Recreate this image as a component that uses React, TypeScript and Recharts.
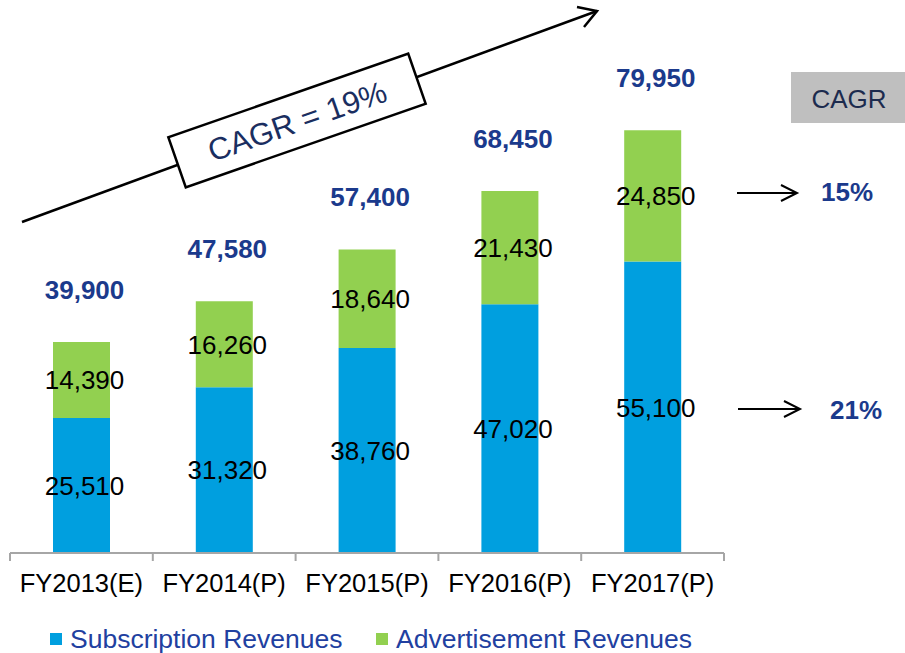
import { BarChart, Bar, XAxis, YAxis, LabelList, Legend } from "recharts";

const categories = ["FY2013(E)", "FY2014(P)", "FY2015(P)", "FY2016(P)", "FY2017(P)"];
const subscription = [25510, 31320, 38760, 47020, 55100];
const advertisement = [14390, 16260, 18640, 21430, 24850];
const overallCagr = "CAGR = 19%";
const segmentCagr = { advertisement: "15%", subscription: "21%" };

const BLUE = "#009FDF";
const GREEN = "#92D050";
const NAVY = "#1B3A8C";
const FONT = "'Liberation Sans', Arial, sans-serif";

const W = 905;
const H = 653;
const LEFT = 10;
const RIGHT = 181;
const PLOT_BOTTOM = 553;
const BAND = (W - LEFT - RIGHT) / categories.length;

const data = categories.map((name, i) => ({
    name,
    subscription: subscription[i],
    advertisement: advertisement[i],
    total: subscription[i] + advertisement[i],
}));

const fmt = (v: number) => v.toLocaleString("en-US");

function AxisTick(props: any) {
    const { x, index, payload } = props;
    const left = x - BAND / 2;
    return (
        <g>
            <line x1={left} y1={PLOT_BOTTOM} x2={left} y2={PLOT_BOTTOM + 8} stroke="#A6A6A6" strokeWidth={2} />
            {index === categories.length - 1 && (
                <line x1={x + BAND / 2} y1={PLOT_BOTTOM} x2={x + BAND / 2} y2={PLOT_BOTTOM + 8} stroke="#A6A6A6" strokeWidth={2} />
            )}
            <text x={x} y={592} textAnchor="middle" fontSize={25.5} fontFamily={FONT} fill="#000">
                {payload.value}
            </text>
        </g>
    );
}

function TotalLabel(props: any) {
    const { x, y, width, index } = props;
    return (
        <text
            x={x + width / 2 + 3}
            y={y - 52}
            textAnchor="middle"
            dominantBaseline="central"
            fontSize={26}
            fontWeight="bold"
            fontFamily={FONT}
            fill={NAVY}
        >
            {fmt(data[index].total)}
        </text>
    );
}

function LegendContent() {
    const item = (color: string, label: string, left: number) => (
        <div style={{ position: "absolute", left, top: 0, display: "flex", alignItems: "center" }}>
            <span style={{ width: 12, height: 12, background: color, marginRight: 8 }} />
            <span style={{ fontSize: 26.5, fontFamily: FONT, color: "#2140A0", lineHeight: "30px" }}>{label}</span>
        </div>
    );
    return (
        <div style={{ position: "relative", height: 30 }}>
            {item(BLUE, "Subscription Revenues", 50)}
            {item(GREEN, "Advertisement Revenues", 376)}
        </div>
    );
}

export default function App() {
    return (
        <div style={{ position: "absolute", left: 0, top: 0, width: W, height: H, background: "#fff" }}>
            <BarChart
                width={W}
                height={H}
                data={data}
                margin={{ top: 77, right: RIGHT, left: LEFT, bottom: 70 }}
            >
                <XAxis
                    dataKey="name"
                    height={30}
                    axisLine={{ stroke: "#A6A6A6", strokeWidth: 2 }}
                    tickLine={false}
                    tick={<AxisTick />}
                    interval={0}
                />
                <YAxis hide domain={[0, 90000]} />
                <Legend
                    layout="horizontal"
                    verticalAlign="middle"
                    align="center"
                    wrapperStyle={{ top: 624, left: 0, width: W }}
                    content={<LegendContent />}
                />
                <Bar dataKey="subscription" stackId="a" fill={BLUE} barSize={57} isAnimationActive={false}>
                    <LabelList
                        dataKey="subscription"
                        position="center"
                        formatter={(v: any) => fmt(Number(v))}
                        fill="#000"
                        fontSize={26}
                        fontFamily={FONT}
                        dx={3}
                    />
                </Bar>
                <Bar dataKey="advertisement" stackId="a" fill={GREEN} barSize={57} isAnimationActive={false}>
                    <LabelList
                        dataKey="advertisement"
                        position="center"
                        formatter={(v: any) => fmt(Number(v))}
                        fill="#000"
                        fontSize={26}
                        fontFamily={FONT}
                        dx={3}
                    />
                    <LabelList dataKey="total" content={<TotalLabel />} />
                </Bar>
            </BarChart>

            {/* growth arrow, CAGR box and segment growth notes */}
            <svg
                width={W}
                height={H}
                style={{ position: "absolute", left: 0, top: 0, pointerEvents: "none" }}
                fontFamily={FONT}
            >
                <line x1={22} y1={222} x2={597} y2={11} stroke="#000" strokeWidth={2.5} />
                <polyline points="577,7 597,11 584,27" fill="none" stroke="#000" strokeWidth={2.5} />
                <g transform="translate(297,120.5) rotate(-19.2)">
                    <rect x={-127} y={-26.5} width={254} height={53} fill="#fff" stroke="#000" strokeWidth={2.5} />
                    <text x={0} y={1} textAnchor="middle" dominantBaseline="central" fontSize={31} fill="#1A2E60">
                        {overallCagr}
                    </text>
                </g>

                <rect x={791} y={72} width={114} height={51} fill="#BFBFBF" />
                <text x={849} y={99} textAnchor="middle" dominantBaseline="central" fontSize={26} fill="#1C2B4E">
                    CAGR
                </text>

                <line x1={737} y1={193} x2={797} y2={193} stroke="#000" strokeWidth={2} />
                <polyline points="781,185 797,193 781,201" fill="none" stroke="#000" strokeWidth={2} />
                <text x={847} y={192} textAnchor="middle" dominantBaseline="central" fontSize={26} fontWeight="bold" fill={NAVY}>
                    {segmentCagr.advertisement}
                </text>

                <line x1={738} y1={409} x2={800} y2={409} stroke="#000" strokeWidth={2} />
                <polyline points="784,401 800,409 784,417" fill="none" stroke="#000" strokeWidth={2} />
                <text x={856} y={410} textAnchor="middle" dominantBaseline="central" fontSize={26} fontWeight="bold" fill={NAVY}>
                    {segmentCagr.subscription}
                </text>
            </svg>
        </div>
    );
}
